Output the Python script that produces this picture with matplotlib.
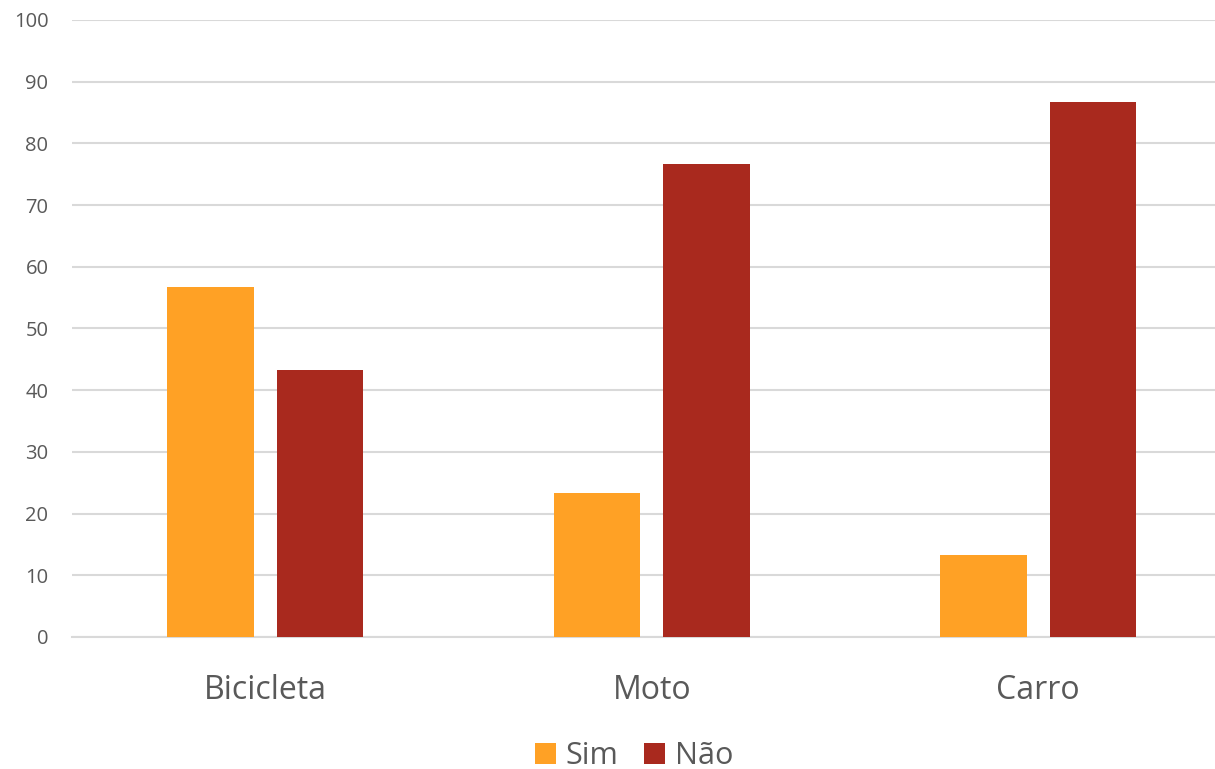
import matplotlib.pyplot as plt
import numpy as np

categorias = ["Bicicleta", "Moto", "Carro"]
sim = [56.7, 23.3, 13.3]
nao = [43.3, 76.7, 86.7]
series = ["Sim", "Não"]

plt.rcParams['font.family'] = ['Open Sans', 'DejaVu Sans']
cinza = "#595959"

fig = plt.figure(figsize=(12.15, 7.69), dpi=100)
# o eixo passa um pouco da borda direita, como no original
ax = fig.add_axes([0.0593, 0.1717, 0.9543, 0.8023])

x = np.arange(len(categorias))
larg = 0.224
desl = 0.142
ax.bar(x - desl, sim, larg, color="#FFA125", label=series[0], zorder=3)
ax.bar(x + desl, nao, larg, color="#A9291E", label=series[1], zorder=3)

ax.set_xlim(-0.5, 2.5)
ax.set_ylim(0, 100)
ax.set_yticks(np.arange(0, 101, 10))
ax.set_xticks(x)
ax.set_xticklabels(categorias)
ax.yaxis.grid(True, color="#D9D9D9", linewidth=1.5, zorder=0)
ax.set_axisbelow(True)
for s in ["top", "right", "left"]:
    ax.spines[s].set_visible(False)
ax.spines["bottom"].set_color("#D9D9D9")
ax.spines["bottom"].set_linewidth(1.5)
ax.tick_params(axis="y", length=0, pad=17, labelsize=14.5, labelcolor=cinza)
ax.tick_params(axis="x", length=0, pad=27, labelsize=23, labelcolor=cinza)

leg = fig.legend(loc="center", bbox_to_anchor=(0.522, 0.017), ncol=2, frameon=False,
                 fontsize=22, handlelength=0.68, handleheight=0.68,
                 handletextpad=0.33, columnspacing=0.85)
for t in leg.get_texts():
    t.set_color(cinza)

fig.savefig("out.png", dpi=100)
